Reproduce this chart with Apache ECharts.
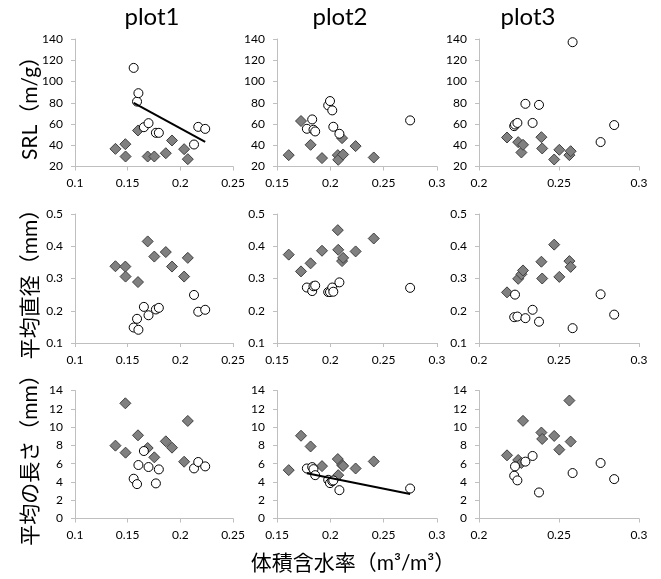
<!DOCTYPE html>
<html><head><meta charset="utf-8">
<script src="https://cdn.jsdelivr.net/npm/echarts@6/dist/echarts.min.js"></script>
<style>html,body{margin:0;padding:0;background:#fff}#c{width:661px;height:579px}</style>
</head><body><div id="c"></div><script>
// ---------- data ----------
const plotNames = ['plot1', 'plot2', 'plot3'];
const rowNames = ['SRL（m/g）', '平均直径（mm）', '平均の長さ（mm）'];
const xTitle = '体積含水率（m³/m³）';

// plot1
const p1DiamondX = [0.1384, 0.1478, 0.1480, 0.1598, 0.1690, 0.1753, 0.1862, 0.1921, 0.2036, 0.2071];
const p1DiamondSRL = [36.6, 41, 29.4, 53.9, 29.4, 29.4, 32.5, 44.5, 36.3, 26.9];
const p1DiamondDiam = [0.338, 0.337, 0.306, 0.289, 0.415, 0.368, 0.382, 0.337, 0.306, 0.364];
const p1DiamondLen = [7.97, 12.6, 7.2, 9.1, 7.71, 6.69, 8.44, 7.75, 6.21, 10.67];
const p1CircleX = [0.1557, 0.1589, 0.1602, 0.1654, 0.1698, 0.1768, 0.1796, 0.2130, 0.2170, 0.2236];
const p1CircleSRL = [112.8, 81.1, 89, 57, 60.8, 51.7, 51.7, 40.7, 57.3, 55.4];
const p1CircleDiam = [0.148, 0.175, 0.141, 0.212, 0.186, 0.204, 0.209, 0.249, 0.197, 0.203];
const p1CircleLen = [4.35, 3.76, 5.85, 7.38, 5.63, 3.84, 5.37, 5.48, 6.18, 5.70];

// plot2
const p2DiamondX = [0.1610, 0.1725, 0.1815, 0.1922, 0.2070, 0.2074, 0.2110, 0.2120, 0.2237, 0.2407];
const p2DiamondSRL = [30.7, 62.8, 40.4, 27.9, 30.7, 26.3, 46.7, 31.3, 39.2, 28.5];
const p2DiamondDiam = [0.374, 0.322, 0.347, 0.386, 0.450, 0.389, 0.354, 0.364, 0.384, 0.424];
const p2DiamondLen = [5.29, 9.05, 7.88, 5.73, 6.5, 4.74, 5.85, 5.75, 5.47, 6.24];
const p2CircleX = [0.1780, 0.1830, 0.1842, 0.1858, 0.1980, 0.1997, 0.2018, 0.2028, 0.2085, 0.2748];
const p2CircleSRL = [55.5, 64.3, 54.6, 53.0, 77.5, 81.6, 72.8, 57.4, 50.8, 63.4];
const p2CircleDiam = [0.272, 0.261, 0.276, 0.278, 0.258, 0.258, 0.272, 0.259, 0.288, 0.271];
const p2CircleLen = [5.47, 5.62, 5.4, 4.74, 4.23, 3.87, 4.09, 4.16, 3.1, 3.28];

// plot3
const p3DiamondX = [0.2175, 0.2245, 0.2265, 0.2275, 0.2390, 0.2395, 0.2470, 0.2502, 0.2565, 0.2573];
const p3DiamondSRL = [47.3, 42.9, 33.2, 40.4, 47.6, 37, 26.6, 35.7, 30.7, 34.4];
const p3DiamondDiam = [0.257, 0.299, 0.313, 0.325, 0.352, 0.300, 0.405, 0.305, 0.354, 0.336];
const p3DiamondLen = [6.91, 6.4, 6.07, 10.68, 9.4, 8.7, 9.03, 7.53, 12.9, 8.41];
const p3CircleX = [0.2220, 0.2225, 0.2240, 0.2290, 0.2335, 0.2375, 0.2585, 0.2760, 0.2845];
const p3CircleSRL = [58, 59.5, 61, 79, 61, 78, 137, 43, 59];
const p3CircleDiam = [0.180, 0.250, 0.182, 0.177, 0.203, 0.166, 0.146, 0.251, 0.188];
const p3CircleLen = [4.68, 5.7, 4.17, 6.22, 6.84, 2.85, 4.97, 6.07, 4.31];

// axis ranges / ticks
const xMins = [0.1, 0.15, 0.2];
const xMaxs = [0.25, 0.3, 0.3];
const xStep = 0.05;
const yMins = [20, 0.1, 0];
const yMaxs = [140, 0.5, 14];
const ySteps = [20, 0.1, 2];

// panels with trend line on circles: [col,row]
const trendPanels = [[0, 0], [1, 2]];

// ---------- build ----------
const panels = [
  {dx: p1DiamondX, dy: [p1DiamondSRL, p1DiamondDiam, p1DiamondLen], cx: p1CircleX, cy: [p1CircleSRL, p1CircleDiam, p1CircleLen]},
  {dx: p2DiamondX, dy: [p2DiamondSRL, p2DiamondDiam, p2DiamondLen], cx: p2CircleX, cy: [p2CircleSRL, p2CircleDiam, p2CircleLen]},
  {dx: p3DiamondX, dy: [p3DiamondSRL, p3DiamondDiam, p3DiamondLen], cx: p3CircleX, cy: [p3CircleSRL, p3CircleDiam, p3CircleLen]}
];
const zip = (a, b) => a.map((v, i) => [v, b[i]]);
function regress(xs, ys) {
  const n = xs.length;
  const mx = xs.reduce((s, v) => s + v, 0) / n;
  const my = ys.reduce((s, v) => s + v, 0) / n;
  let sxy = 0, sxx = 0;
  for (let i = 0; i < n; i++) { sxy += (xs[i] - mx) * (ys[i] - my); sxx += (xs[i] - mx) ** 2; }
  const b = sxy / sxx, a = my - b * mx;
  const x0 = Math.min(...xs), x1 = Math.max(...xs);
  return [[x0, a + b * x0], [x1, a + b * x1]];
}

const L = {
  left: [75, 277, 479], width: [158, 160, 160],
  top: [39, 214, 390.5], height: [127.5, 129, 128]
};
const axisColor = '#bfbfbf';
const latin = 'Lato, "Noto Sans CJK JP", sans-serif';
const fmt = v => String(+(+v).toFixed(3));

const grid = [], xAxis = [], yAxis = [], series = [];
let idx = 0;
for (let r = 0; r < 3; r++) {
  for (let c = 0; c < 3; c++) {
    grid.push({left: L.left[c], top: L.top[r], width: L.width[c], height: L.height[r], containLabel: false});
    xAxis.push({
      type: 'value', gridIndex: idx, min: xMins[c], max: xMaxs[c], interval: xStep,
      axisLine: {show: true, onZero: false, lineStyle: {color: axisColor, width: 1}},
      axisTick: {show: true, inside: false, length: 4, lineStyle: {color: axisColor}},
      splitLine: {show: false},
      axisLabel: {color: '#000', fontSize: 12, fontFamily: latin, margin: 11, formatter: fmt, showMinLabel: true, showMaxLabel: true, hideOverlap: false}
    });
    yAxis.push({
      type: 'value', gridIndex: idx, min: yMins[r], max: yMaxs[r], interval: ySteps[r],
      axisLine: {show: true, onZero: false, lineStyle: {color: axisColor, width: 1}},
      axisTick: {show: true, inside: false, length: 4, lineStyle: {color: axisColor}},
      splitLine: {show: false},
      axisLabel: {color: '#000', fontSize: 12, fontFamily: latin, margin: 12, formatter: fmt, showMinLabel: true, showMaxLabel: true}
    });
    const p = panels[c];
    series.push({
      type: 'scatter', xAxisIndex: idx, yAxisIndex: idx, symbol: 'diamond', symbolSize: 11,
      itemStyle: {color: '#808080', borderColor: '#404040', borderWidth: 1, opacity: 1},
      data: zip(p.dx, p.dy[r]), z: 2
    });
    series.push({
      type: 'scatter', xAxisIndex: idx, yAxisIndex: idx, symbol: 'circle', symbolSize: 9,
      itemStyle: {color: '#ffffff', borderColor: '#000000', borderWidth: 1, opacity: 1},
      data: zip(p.cx, p.cy[r]), z: 3
    });
    if (trendPanels.some(t => t[0] === c && t[1] === r)) {
      series.push({
        type: 'line', xAxisIndex: idx, yAxisIndex: idx, symbol: 'none', silent: true,
        lineStyle: {color: '#000', width: 2}, data: regress(p.cx, p.cy[r]), z: 4
      });
    }
    idx++;
  }
}

const titleX = [152, 340, 528];
const rowTitleY = [103, 279, 455];
const graphic = [];
plotNames.forEach((t, i) => graphic.push({
  type: 'text', x: titleX[i], y: 17,
  style: {text: t, fill: '#000', font: '24px ' + latin, textAlign: 'center', textVerticalAlign: 'middle'}
}));
rowNames.forEach((t, i) => graphic.push({
  type: 'text', x: 30, y: rowTitleY[i], rotation: Math.PI / 2,
  style: {text: t, fill: '#000', font: '21px ' + latin, textAlign: 'center', textVerticalAlign: 'middle'}
}));
graphic.push({
  type: 'text', x: 353, y: 563,
  style: {text: xTitle, fill: '#000', font: '21px ' + latin, textAlign: 'center', textVerticalAlign: 'middle'}
});

const chart = echarts.init(document.getElementById('c'), null, {renderer: 'canvas'});
chart.setOption({animation: false, backgroundColor: '#fff', grid, xAxis, yAxis, series, graphic});
</script></body></html>
